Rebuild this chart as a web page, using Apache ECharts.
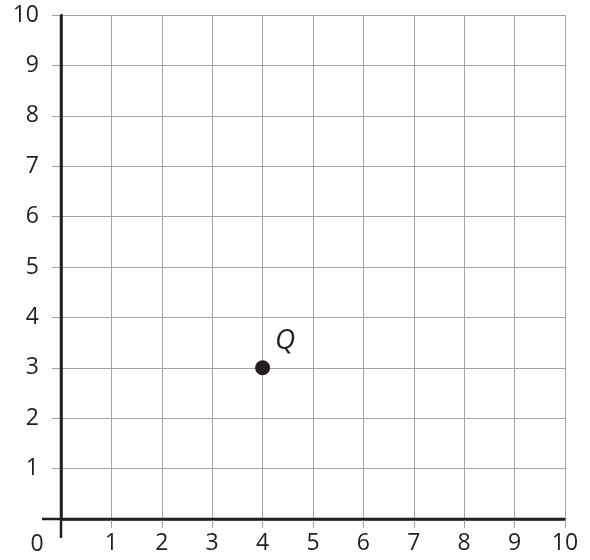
<!DOCTYPE html>
<html>
<head>
<meta charset="utf-8">
<script src="https://cdn.jsdelivr.net/npm/echarts@6/dist/echarts.min.js"></script>
<style>
  html, body { margin: 0; padding: 0; background: #fff; }
  #main { width: 590px; height: 560px; }
</style>
</head>
<body>
<div id="main"></div>
<script>
var pointX = [4];
var pointY = [3];
var pointNames = ['Q'];
var axisMin = 0, axisMax = 10, axisStep = 1;

var ink = '#231f20';
var gridGray = '#a3a3a3';
var font = 'Open Sans';

var myChart = echarts.init(document.getElementById('main'));
var option = {
    animation: false,
    grid: { left: 61, right: 25, top: 15, bottom: 41, containLabel: false },
    xAxis: {
        type: 'value',
        min: axisMin, max: axisMax, interval: axisStep,
        axisLine: { show: true, lineStyle: { color: ink, width: 2.5 } },
        axisTick: { show: true, length: 9, lineStyle: { color: gridGray, width: 1 } },
        splitLine: { show: true, lineStyle: { color: gridGray, width: 1 } },
        axisLabel: {
            margin: 13, fontSize: 23, color: ink, fontFamily: font,
            formatter: function (v) { return v === 0 ? '' : String(v); }
        }
    },
    yAxis: {
        type: 'value',
        min: axisMin, max: axisMax, interval: axisStep,
        axisLine: { show: true, lineStyle: { color: ink, width: 2.5 } },
        axisTick: { show: true, length: 9, lineStyle: { color: gridGray, width: 1 } },
        splitLine: { show: true, lineStyle: { color: gridGray, width: 1 } },
        axisLabel: {
            margin: 22, fontSize: 23, color: ink, fontFamily: font,
            padding: [7, 0, 0, 0],
            formatter: function (v) { return v === 0 ? '' : String(v); }
        }
    },
    series: [{
        type: 'scatter',
        symbol: 'circle',
        symbolSize: 15,
        itemStyle: { color: ink, opacity: 1 },
        data: pointX.map(function (x, i) { return { value: [x, pointY[i]], name: pointNames[i] }; }),
        label: {
            show: true,
            formatter: '{b}',
            position: 'right',
            offset: [0, -27],
            fontSize: 28,
            fontStyle: 'italic',
            fontFamily: font,
            color: ink
        },
        emphasis: { disabled: true },
        z: 10
    }]
};
myChart.setOption(option);

// axis lines run a little past the origin, and the origin gets one "0"
var o = myChart.convertToPixel({ gridIndex: 0 }, [axisMin, axisMin]);
var top10 = myChart.convertToPixel({ gridIndex: 0 }, [axisMin, axisMax]);
var right10 = myChart.convertToPixel({ gridIndex: 0 }, [axisMax, axisMin]);
myChart.setOption({
    graphic: [
        { type: 'line', shape: { x1: o[0] - 19, y1: o[1], x2: right10[0], y2: o[1] },
          style: { stroke: ink, lineWidth: 2.5 }, z: 5 },
        { type: 'line', shape: { x1: o[0], y1: top10[1], x2: o[0], y2: o[1] + 19 },
          style: { stroke: ink, lineWidth: 2.5 }, z: 5 },
        { type: 'text', x: o[0] - 24, y: o[1] + 25,
          style: { text: String(axisMin), fontSize: 23, fontFamily: font, fill: ink,
                   textAlign: 'center', textVerticalAlign: 'middle' } }
    ]
});
</script>
</body>
</html>
